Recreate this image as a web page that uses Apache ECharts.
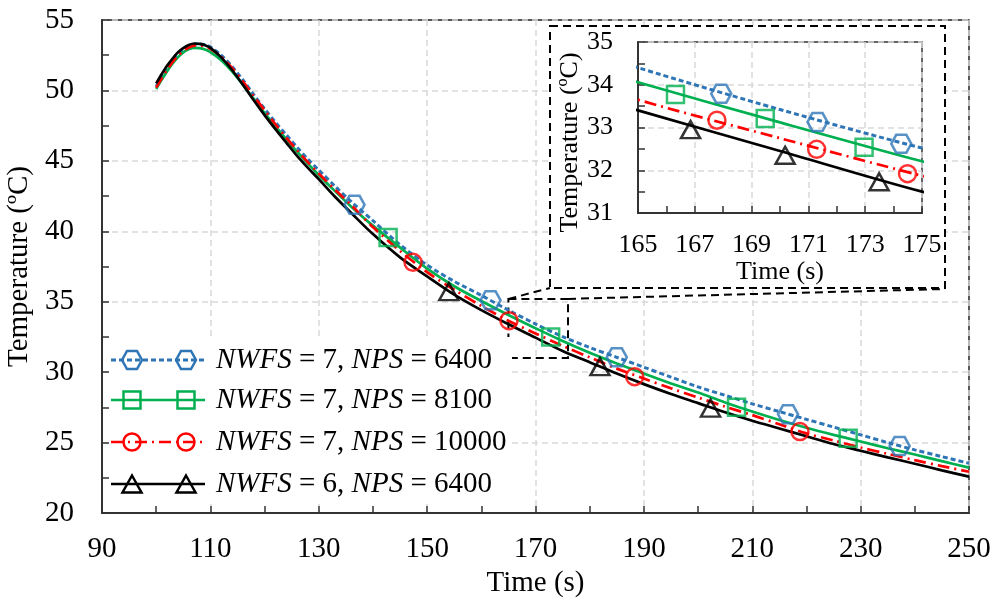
<!DOCTYPE html>
<html><head><meta charset="utf-8">
<script src="https://cdn.jsdelivr.net/npm/echarts/dist/echarts.min.js"></script>
<style>html,body{margin:0;padding:0;background:#fff}#c{width:996px;height:606px}</style>
</head><body><div id="c"></div>
<script>
// ---------- data ----------
const timeSeconds = [100,101,102,103,104,105,106,107,108,109,110,112,114,116,118,120,122,124,126,128,130,133,136,140,145,150,155,160,165,170,175,180,185,190,195,200,205,210,215,220,225,230,235,240,245,250];
const tempN7P6400 = [50.3,50.95,51.55,52.1,52.55,52.9,53.15,53.28,53.3,53.25,53.08,52.5,51.7,50.75,49.7,48.7,47.75,46.85,45.97,45.12,44.35,43.2,42.1,40.75,39.05,37.6,36.45,35.45,34.4,33.42,32.52,31.75,31.05,30.35,29.65,28.95,28.35,27.75,27.2,26.65,26.1,25.55,25.0,24.48,24.0,23.53];
const tempN7P8100 = [50.1,50.75,51.35,51.9,52.35,52.7,52.92,53.02,53.0,52.9,52.72,52.15,51.35,50.4,49.4,48.4,47.45,46.55,45.65,44.8,44.0,42.85,41.75,40.4,38.85,37.35,36.1,35.05,34.06,33.12,32.21,31.38,30.62,29.9,29.2,28.55,27.85,27.2,26.6,26.05,25.55,25.08,24.6,24.15,23.68,23.22];
const tempN7P10000 = [50.2,50.85,51.45,52.0,52.45,52.8,53.05,53.18,53.2,53.12,52.95,52.4,51.6,50.65,49.6,48.6,47.6,46.65,45.75,44.9,44.1,42.95,41.85,40.3,38.6,37.1,35.85,34.7,33.65,32.75,31.87,31.05,30.25,29.55,28.85,28.2,27.55,26.95,26.3,25.65,25.15,24.65,24.2,23.75,23.33,22.93];
const tempN6P6400 = [50.5,51.15,51.75,52.25,52.7,53.0,53.22,53.33,53.3,53.2,53.02,52.35,51.45,50.4,49.3,48.25,47.25,46.3,45.35,44.5,43.7,42.45,41.3,39.8,38.15,36.8,35.5,34.4,33.4,32.45,31.5,30.7,29.9,29.15,28.45,27.8,27.15,26.55,26.0,25.45,24.9,24.42,23.95,23.5,23.03,22.58];

// marker positions [time, temperature] in the main plot and in the inset
const markN7P6400Main  = [[136.6,41.88],[161.7,35.1],[185.0,31.06],[216.6,27.01],[237.2,24.76]];
const markN7P6400Inset = [[167.93,33.79],[171.32,33.13],[174.27,32.62]];
const markN7P8100Main  = [[142.8,39.55],[172.8,32.5],[207.1,27.51],[227.7,25.31]];
const markN7P8100Inset = [[166.32,33.77],[169.48,33.21],[172.96,32.54]];
const markN7P10000Main  = [[147.4,37.8],[165.1,33.65],[188.3,29.68],[218.8,25.78]];
const markN7P10000Inset = [[167.78,33.17],[171.29,32.49],[174.49,31.92]];
const markN6P6400Main  = [[154.0,35.72],[181.9,30.39],[202.3,27.45]];
const markN6P6400Inset = [[166.85,32.95],[170.18,32.35],[173.49,31.73]];

const seriesNames = ['NWFS = 7, NPS = 6400','NWFS = 7, NPS = 8100','NWFS = 7, NPS = 10000','NWFS = 6, NPS = 6400'];
const legendRich = ['{i|NWFS} = 7, {i|NPS} = 6400','{i|NWFS} = 7, {i|NPS} = 8100','{i|NWFS} = 7, {i|NPS} = 10000','{i|NWFS} = 6, {i|NPS} = 6400'];

const mainXTicks = [90, 250, 20];   // min, max, label step
const mainYTicks = [20, 55, 5];
const insetXTicks = [165, 175, 2];
const insetYTicks = [31, 35, 1];
const zoomBoxX = [165, 176];
const zoomBoxY = [31, 35.2];

// ---------- styles ----------
const FONT = '"Liberation Serif", "Times New Roman", serif';
const HEX = 'path://M0,50 L25,0 L75,0 L100,50 L75,100 L25,100 Z';
const styles = [
  {color:'#2E75B6', type:[5,3], width:3, symbol:HEX, size:[20,18]},
  {color:'#00B050', type:'solid', width:2.7, symbol:'rect', size:17},
  {color:'#FF0000', type:[12,5,2,5], width:2.7, symbol:'circle', size:17},
  {color:'#000000', type:'solid', width:2.7, symbol:'triangle', size:[19,17]}
];
const curves = [tempN7P6400, tempN7P8100, tempN7P10000, tempN6P6400];
const marksMain = [markN7P6400Main, markN7P8100Main, markN7P10000Main, markN6P6400Main];
const marksInset = [markN7P6400Inset, markN7P8100Inset, markN7P10000Inset, markN6P6400Inset];

const chart = echarts.init(document.getElementById('c'), null, {renderer:'canvas'});

function axisCommon(fs, margin){
  return {
    axisLine:{show:true, lineStyle:{color:'#333', width:2}},
    axisTick:{show:true, inside:true, length:7, lineStyle:{color:'#333', width:1.5}},
    minorTick:{show:true, splitNumber:2, length:7, lineStyle:{color:'#333', width:1.5}},
    splitLine:{show:true, lineStyle:{color:'#d9d9d9', type:[6,4], width:1.5}},
    minorSplitLine:{show:false},
    axisLabel:{show:true, color:'#000', fontFamily:FONT, fontSize:fs, margin:margin, showMinLabel:true, showMaxLabel:true, hideOverlap:false},
    nameTextStyle:{color:'#000', fontFamily:FONT, fontSize:fs}
  };
}

const series = [];
curves.forEach((c, i) => {
  const st = styles[i];
  const lineData = timeSeconds.map((t, k) => [t, c[k]]);
  const lineBase = {type:'line', name:seriesNames[i], data:lineData, showSymbol:false, symbol:'none', smooth:0.3,
    lineStyle:{color:st.color, width:st.width, type:st.type}, itemStyle:{color:st.color}, animation:false, silent:true};
  const markBase = {type:'scatter', name:seriesNames[i], symbol:st.symbol, symbolSize:st.size,
    itemStyle:{color:'rgba(0,0,0,0)', borderColor:st.color, borderWidth:2.5}, animation:false, silent:true};
  const main = Object.assign({}, lineBase, {xAxisIndex:0, yAxisIndex:0, z:2});
  if (i === 3) {
    main.markArea = {silent:true, itemStyle:{color:'rgba(0,0,0,0)', borderColor:'#000', borderWidth:2, borderType:[8,5]},
      data:[[{coord:[zoomBoxX[0], zoomBoxY[1]]},{coord:[zoomBoxX[1], zoomBoxY[0]]}]]};
  }
  series.push(main);
  series.push(Object.assign({}, markBase, {xAxisIndex:0, yAxisIndex:0, data:marksMain[i], z:3}));
  series.push(Object.assign({}, lineBase, {xAxisIndex:1, yAxisIndex:1, data:lineData, z:11}));
  series.push(Object.assign({}, markBase, {xAxisIndex:1, yAxisIndex:1, data:marksInset[i], z:12}));
});

const mainX = Object.assign(axisCommon(29, 22), {type:'value', gridIndex:0, min:mainXTicks[0], max:mainXTicks[1], interval:mainXTicks[2],
  name:'Time (s)', nameLocation:'middle', nameGap:55});
const mainY = Object.assign(axisCommon(29, 28), {type:'value', gridIndex:0, min:mainYTicks[0], max:mainYTicks[1], interval:mainYTicks[2],
  name:'Temperature (ºC)', nameLocation:'middle', nameGap:58});
const insX = Object.assign(axisCommon(26, 19), {type:'value', gridIndex:1, min:insetXTicks[0], max:insetXTicks[1], interval:insetXTicks[2],
  name:'Time (s)', nameLocation:'middle', nameGap:44, z:10});
const insY = Object.assign(axisCommon(26, 25), {type:'value', gridIndex:1, min:insetYTicks[0], max:insetYTicks[1], interval:insetYTicks[2],
  name:'Temperature (ºC)', nameLocation:'middle', nameGap:55, z:10});
insY.nameTextStyle = Object.assign({}, insY.nameTextStyle, {padding:[0,30,0,0]});

chart.setOption({
  backgroundColor:'#fff',
  animation:false,
  grid:[
    {left:102, top:20, width:867, height:493, show:true, borderColor:'#222', borderWidth:1.5, backgroundColor:'#fff', containLabel:false, outerBoundsMode:'none'},
    {left:638, top:42, width:284, height:171, show:true, borderColor:'#333', borderWidth:1.5, backgroundColor:'rgba(0,0,0,0)', containLabel:false, outerBoundsMode:'none', z:10}
  ],
  xAxis:[mainX, insX],
  yAxis:[mainY, insY],
  series:series
});

// ---------- inset frame, connector lines and legend ----------
const box = {x1:550, y1:26, x2:945, y2:288};
const pTL = chart.convertToPixel({gridIndex:0}, [zoomBoxX[0], zoomBoxY[1]]);
const pTR = chart.convertToPixel({gridIndex:0}, [zoomBoxX[1], zoomBoxY[1]]);
const dash = [8,5];
const graphics = [
  {type:'rect', z:3, shape:{x:box.x1, y:box.y1, width:box.x2-box.x1, height:box.y2-box.y1},
    style:{fill:'#fff', stroke:'#000', lineWidth:2, lineDash:dash}},
  {type:'line', z:4, shape:{x1:pTL[0], y1:pTL[1], x2:box.x1, y2:box.y2}, style:{stroke:'#000', lineWidth:2, lineDash:dash}},
  {type:'line', z:4, shape:{x1:pTR[0], y1:pTR[1], x2:box.x2, y2:box.y2+1}, style:{stroke:'#000', lineWidth:2, lineDash:dash}},
  {type:'rect', z:3, shape:{x:110, y:337, width:402, height:167}, style:{fill:'#fff'}}
];
const rowY = [360, 400, 442, 484];
function legendSymbol(i, cx, cy){
  const st = styles[i];
  const s = {fill:'rgba(0,0,0,0)', stroke:st.color, lineWidth:2.5};
  if (i === 0) return {type:'polygon', z:5, shape:{points:[[cx-10,cy],[cx-5,cy-9],[cx+5,cy-9],[cx+10,cy],[cx+5,cy+9],[cx-5,cy+9]]}, style:s};
  if (i === 1) return {type:'rect', z:5, shape:{x:cx-8.5, y:cy-8.5, width:17, height:17}, style:s};
  if (i === 2) return {type:'circle', z:5, shape:{cx:cx, cy:cy, r:8.5}, style:s};
  return {type:'polygon', z:5, shape:{points:[[cx,cy-8.5],[cx+9.5,cy+8.5],[cx-9.5,cy+8.5]]}, style:s};
}
rowY.forEach((y, i) => {
  const st = styles[i];
  graphics.push({type:'line', z:4, shape:{x1:111, y1:y, x2:205, y2:y},
    style:{stroke:st.color, lineWidth:st.width, lineDash: st.type === 'solid' ? null : st.type}});
  graphics.push(legendSymbol(i, 132, y));
  graphics.push(legendSymbol(i, 186, y));
  graphics.push({type:'text', z:5, x:216, y:y,
    style:{text:legendRich[i], fill:'#000', fontFamily:FONT, fontSize:29, verticalAlign:'middle', align:'left',
      rich:{i:{fontStyle:'italic', fontFamily:FONT, fontSize:29, fill:'#000'}}}});
});
chart.setOption({graphic:graphics});
</script>
</body></html>
